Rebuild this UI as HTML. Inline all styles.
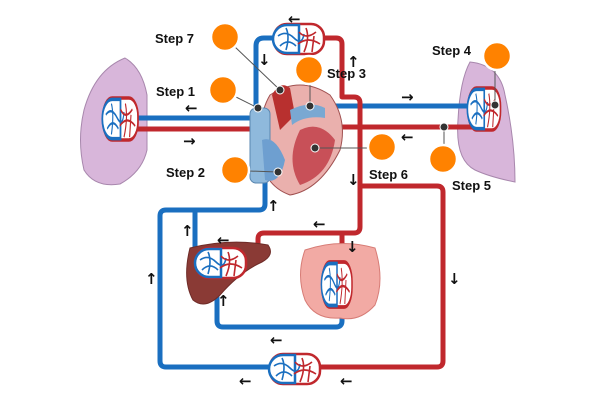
<!DOCTYPE html>
<html><head><meta charset="utf-8"><style>
html,body{margin:0;padding:0;background:#fff;}
svg{display:block;}
text{font-family:"Liberation Sans",Arial,sans-serif;font-weight:bold;font-size:13px;fill:#111;}
.ar{font-family:"DejaVu Sans",sans-serif;font-weight:bold;font-size:15px;}
</style></head><body>
<svg width="600" height="400" viewBox="0 0 600 400" xmlns="http://www.w3.org/2000/svg">
<defs>
<g id="cap">
<rect x="0" y="0" width="50" height="30" rx="13" fill="#fff" stroke="#c0282d" stroke-width="2.5"/>
<path d="M13,1 A13,13 0 0 0 13,29 L25,29 L25,1 Z" fill="#fff" stroke="#1a6fc0" stroke-width="2.5"/>
<path d="M4,12 Q12,6 20,14 T30,10 M6,22 Q14,14 22,22 M12,4 Q16,12 12,26" fill="none" stroke="#1a6fc0" stroke-width="1.6"/>
<path d="M25,8 Q32,16 42,8 M24,20 Q34,12 46,20 M32,4 Q36,14 30,28 M40,12 L38,28" fill="none" stroke="#c0282d" stroke-width="1.6"/>
</g>
</defs>
<path d="M125,58 Q142,68 147,95 L147,150 Q142,172 120,184 Q95,188 84,170 Q77,140 84,110 Q95,70 125,58Z" fill="#d8b6da" stroke="#a887ad" stroke-width="1"/>
<path d="M470,62 Q500,65 505,95 Q515,140 515,182 Q490,177 475,170 Q455,160 458,120 Q460,80 470,62Z" fill="#d8b6da" stroke="#a887ad" stroke-width="1"/>
<g fill="none" stroke="#1a6fc0" stroke-width="5" stroke-linejoin="round">
<path d="M130,118 L258,118"/>
<path d="M256,112 L256,46 Q256,38 264,38 L278,38"/>
<path d="M318,106 L472,106"/>
<path d="M265,175 L265,204 Q265,210 259,210 L166,210 Q160,210 160,216 L160,361 Q160,367 166,367 L272,367"/>
<path d="M195,210 L195,262"/>
<path d="M217,270 L217,321 Q217,327 223,327 L336,327 Q342,327 342,321 L342,305"/>
</g>
<g fill="none" stroke="#c0282d" stroke-width="5" stroke-linejoin="round">
<path d="M130,129 L258,129"/>
<path d="M320,38 L336,38 Q342,38 342,44 L342,97 L354,97 Q360,97 360,103 L360,227 Q360,233 354,233 L264,233 Q258,233 258,239 L258,262"/>
<path d="M342,233 L342,268"/>
<path d="M290,127 L475,127"/>
<path d="M360,186 L437,186 Q443,186 443,192 L443,361 Q443,367 437,367 L320,367"/>
</g>
<path d="M190,248 Q230,238 268,245 Q275,255 262,262 Q240,272 220,295 Q205,310 193,300 Q182,280 190,248Z" fill="#8a3a35" stroke="#6e2b27"/>
<path d="M305,250 Q340,238 375,248 Q385,280 375,305 Q360,322 340,318 Q315,320 305,300 Q296,275 305,250Z" fill="#f2aaa4" stroke="#d77c76"/>
<path d="M270,95 Q300,75 330,95 Q348,120 340,150 Q320,190 290,195 Q262,185 260,150 Q258,115 270,95Z" fill="#eab0ad" stroke="#a05050"/>
<rect x="250" y="108" width="20" height="75" rx="6" fill="#8fb9dc" stroke="#5a87b0"/>
<path d="M272,95 Q280,80 290,88 L295,115 L280,130Z" fill="#b8302f"/>
<path d="M290,110 Q310,100 325,108 L325,118 Q305,115 292,125Z" fill="#7aa8d2"/>
<path d="M300,130 Q320,120 335,140 Q330,175 300,185 Q285,160 300,130Z" fill="#c85058"/>
<path d="M262,140 Q275,135 285,160 Q280,185 265,180Z" fill="#6e9fd0"/>
<use href="#cap" x="274" y="24"/>
<use href="#cap" x="270" y="354"/>
<g transform="translate(103,98) scale(0.7,1.4)"><use href="#cap"/></g>
<g transform="translate(468,88) scale(0.65,1.4)"><use href="#cap"/></g>
<use href="#cap" x="196" y="248"/>
<g transform="translate(322,262) scale(0.6,1.5)"><use href="#cap"/></g>
<g stroke="#555" stroke-width="1">
<line x1="234" y1="46" x2="280" y2="90"/><line x1="234" y1="96" x2="258" y2="108"/>
<line x1="310" y1="82" x2="310" y2="106"/><line x1="249" y1="171" x2="278" y2="172"/>
<line x1="368" y1="148" x2="315" y2="148"/><line x1="495" y1="68" x2="495" y2="105"/>
<line x1="444" y1="146" x2="444" y2="127"/>
</g>
<g fill="#333" stroke="#fff" stroke-width="1">
<circle cx="280" cy="90" r="4"/><circle cx="258" cy="108" r="4"/><circle cx="310" cy="106" r="4"/>
<circle cx="278" cy="172" r="4"/><circle cx="315" cy="148" r="4"/><circle cx="495" cy="105" r="4"/><circle cx="444" cy="127" r="4"/>
</g>
<g fill="#ff8200" stroke="#fff" stroke-width="2.5">
<circle cx="225" cy="37" r="14"/><circle cx="223" cy="90" r="14"/><circle cx="309" cy="70" r="14"/>
<circle cx="235" cy="170" r="14"/><circle cx="382" cy="147" r="14"/><circle cx="497" cy="56" r="14"/><circle cx="443" cy="159" r="14"/>
</g>
<text x="155" y="43">Step 7</text>
<text x="156" y="96">Step 1</text>
<text x="327" y="78">Step 3</text>
<text x="166" y="177">Step 2</text>
<text x="369" y="179">Step 6</text>
<text x="432" y="55">Step 4</text>
<text x="452" y="190">Step 5</text>
<text class="ar" x="288" y="24">←</text>
<text class="ar" x="258" y="65">↓</text>
<text class="ar" x="347" y="67">↑</text>
<text class="ar" x="185" y="113">←</text>
<text class="ar" x="183" y="146">→</text>
<text class="ar" x="401" y="102">→</text>
<text class="ar" x="401" y="142">←</text>
<text class="ar" x="347" y="185">↓</text>
<text class="ar" x="267" y="211">↑</text>
<text class="ar" x="181" y="236">↑</text>
<text class="ar" x="313" y="229">←</text>
<text class="ar" x="217" y="245">←</text>
<text class="ar" x="346" y="252">↓</text>
<text class="ar" x="448" y="284">↓</text>
<text class="ar" x="145" y="284">↑</text>
<text class="ar" x="217" y="306">↑</text>
<text class="ar" x="270" y="345">←</text>
<text class="ar" x="239" y="386">←</text>
<text class="ar" x="340" y="386">←</text>
</svg>
</body></html>
